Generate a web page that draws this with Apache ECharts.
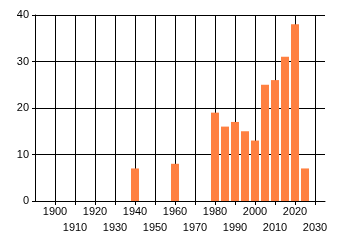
<!DOCTYPE html>
<html>
<head>
<meta charset="utf-8">
<script src="https://cdn.jsdelivr.net/npm/echarts@6/dist/echarts.min.js"></script>
<style>html,body{margin:0;padding:0;background:#fff}#c{width:340px;height:245px}</style>
</head>
<body>
<div id="c"></div>
<script>
const years = [1940, 1960, 1980, 1985, 1990, 1995, 2000, 2005, 2010, 2015, 2020, 2025];
const values = [7, 8, 19, 16, 17, 15, 13, 25, 26, 31, 38, 7];
const xTickLabels = [1900, 1910, 1920, 1930, 1940, 1950, 1960, 1970, 1980, 1990, 2000, 2010, 2020, 2030];
const yTickLabels = [0, 10, 20, 30, 40];

const upperRow = xTickLabels.filter((v, i) => i % 2 === 0);
const lowerRow = xTickLabels.filter((v, i) => i % 2 === 1);

const chart = echarts.init(document.getElementById('c'), null, {renderer: 'canvas'});
const font = 'Liberation Sans';
const labelBase = {color: '#000', fontFamily: font, fontSize: 11, showMinLabel: true, showMaxLabel: true, hideOverlap: false};
chart.setOption({
  animation: false,
  backgroundColor: '#fff',
  grid: {left: 35, right: 15, top: 15, bottom: 44, containLabel: false},
  xAxis: [{
    type: 'value', min: 1890, max: 2035, interval: 10, position: 'bottom',
    axisLine: {show: true, lineStyle: {color: '#000', width: 1}},
    axisTick: {show: true, length: 4, lineStyle: {color: '#000'}, customValues: xTickLabels},
    axisLabel: Object.assign({customValues: upperRow, margin: 5, formatter: v => String(v)}, labelBase),
    splitLine: {show: true, showMinLine: true, showMaxLine: true, lineStyle: {color: '#000', width: 1}}
  }, {
    type: 'value', min: 1890, max: 2035, interval: 10, position: 'bottom', offset: 0,
    axisLine: {show: false},
    axisTick: {show: false},
    axisLabel: Object.assign({customValues: lowerRow, margin: 21, formatter: v => String(v)}, labelBase),
    splitLine: {show: false}
  }],
  yAxis: {
    type: 'value', min: 0, max: 40, interval: 10,
    axisLine: {show: true, lineStyle: {color: '#000', width: 1}},
    axisTick: {show: true, length: 3, lineStyle: {color: '#000'}},
    axisLabel: {color: '#000', fontFamily: font, fontSize: 11, margin: 6,
      formatter: function (v) { return yTickLabels.indexOf(v) >= 0 ? String(v) : ''; }},
    splitLine: {show: true, lineStyle: {color: '#000', width: 1}}
  },
  series: [{
    type: 'bar',
    xAxisIndex: 0,
    data: years.map((y, i) => [y, values[i]]),
    barWidth: 8,
    itemStyle: {color: '#ff8041'}
  }]
});
</script>
</body>
</html>
